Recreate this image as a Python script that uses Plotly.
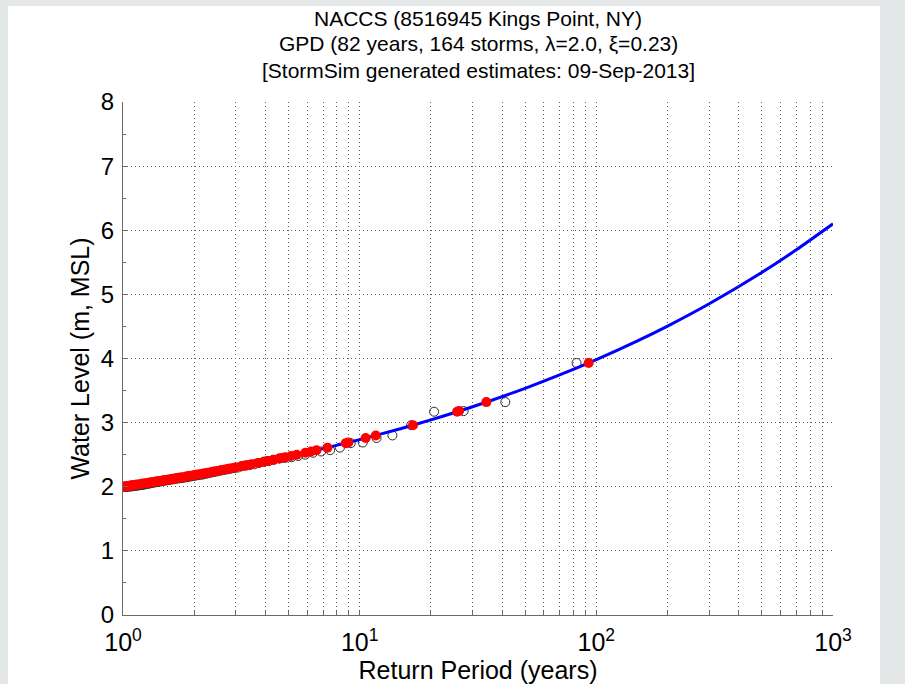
import plotly.graph_objects as go

# Fitted GPD return-level curve (return period in years, water level in m MSL)
curve_rp = [1, 1.5, 2, 3, 5, 7, 10, 15, 20, 30, 50, 70, 100, 150, 200, 300, 500, 700, 1000]
curve_level = [2.000, 2.103, 2.182, 2.303, 2.471, 2.594, 2.735, 2.909, 3.043, 3.248,
               3.535, 3.743, 3.982, 4.279, 4.506, 4.854, 5.341, 5.695, 6.100]

# Ranked storm peaks (largest first)
storm_levels = [
    3.93, 3.32, 3.18, 3.17, 2.96, 2.80, 2.76, 2.69, 2.68, 2.61,
    2.57, 2.55, 2.53, 2.50, 2.48, 2.46, 2.45, 2.44, 2.42, 2.40,
    2.39, 2.37, 2.35, 2.34, 2.33, 2.32, 2.30, 2.29, 2.28, 2.27,
    2.26, 2.25, 2.24, 2.23, 2.22, 2.21, 2.20, 2.19, 2.185, 2.18,
    2.17, 2.165, 2.16, 2.15, 2.145, 2.14, 2.135, 2.13, 2.125, 2.12,
    2.115, 2.11, 2.105, 2.10, 2.095, 2.09, 2.085, 2.08, 2.075, 2.07,
    2.065, 2.06, 2.055, 2.05, 2.045, 2.04, 2.035, 2.03, 2.027, 2.024,
    2.021, 2.018, 2.015, 2.012, 2.009, 2.006, 2.004, 2.002, 2.00, 1.998,
    1.996, 1.994,
]

# Empirical (plotting-position) return periods of the ranked storms
empirical_rp = [
    82.5, 41.25, 27.5, 20.63, 16.5, 13.75, 11.79, 10.31, 9.17, 8.25,
    7.5, 6.88, 6.35, 5.89, 5.5, 5.16, 4.85, 4.58, 4.34, 4.13,
    3.93, 3.75, 3.59, 3.44, 3.3, 3.17, 3.06, 2.95, 2.84, 2.75,
    2.66, 2.58, 2.5, 2.43, 2.36, 2.29, 2.23, 2.17, 2.12, 2.06,
    2.01, 1.96, 1.92, 1.88, 1.83, 1.79, 1.76, 1.72, 1.68, 1.65,
    1.62, 1.59, 1.56, 1.53, 1.5, 1.47, 1.45, 1.42, 1.4, 1.38,
    1.35, 1.33, 1.31, 1.29, 1.27, 1.25, 1.23, 1.21, 1.2, 1.18,
    1.16, 1.15, 1.13, 1.11, 1.1, 1.09, 1.07, 1.06, 1.04, 1.03,
    1.02, 1.01,
]

# Return periods of the same storms according to the fitted distribution
fitted_rp = [
    92.8, 34.3, 26.3, 25.8, 16.8, 11.7, 10.6, 8.96, 8.74, 7.31,
    6.57, 6.23, 5.90, 5.42, 5.13, 4.84, 4.70, 4.57, 4.31, 4.06,
    3.94, 3.71, 3.49, 3.38, 3.28, 3.17, 2.98, 2.88, 2.79, 2.70,
    2.61, 2.53, 2.44, 2.36, 2.28, 2.21, 2.13, 2.06, 2.02, 1.99,
    1.92, 1.88, 1.85, 1.79, 1.75, 1.72, 1.69, 1.66, 1.63, 1.60,
    1.57, 1.54, 1.51, 1.48, 1.46, 1.43, 1.40, 1.38, 1.35, 1.32,
    1.30, 1.27, 1.25, 1.22, 1.20, 1.18, 1.15, 1.13, 1.12, 1.10,
    1.09, 1.08, 1.06, 1.05, 1.04, 1.03, 1.02, 1.01, 1.00, 0.99,
    0.98, 0.97,
]

title_lines = [
    "NACCS (8516945 Kings Point, NY)",
    "GPD (82 years, 164 storms, λ=2.0, ξ=0.23)",
    "[StormSim generated estimates: 09-Sep-2013]",
]

x_major = [1, 10, 100, 1000]
x_major_text = ["10<sup>0</sup>", "10<sup>1</sup>", "10<sup>2</sup>", "10<sup>3</sup>"]
y_ticks = [0, 1, 2, 3, 4, 5, 6, 7, 8]

# every 1..9 step of each decade gets a dotted grid line; only powers of ten are labelled
x_tickvals, x_ticktext = [], []
for d, lab in zip(x_major[:-1], x_major_text[:-1]):
    for k in range(1, 10):
        x_tickvals.append(d * k)
        x_ticktext.append(lab if k == 1 else "")
x_tickvals.append(x_major[-1])
x_ticktext.append(x_major_text[-1])

FONT = "Liberation Sans, Arial, Helvetica, sans-serif"
AXIS = "#6a6a6a"
GRID = dict(gridcolor="#5e5e5e", griddash="1px,3px", gridwidth=1)

fig = go.Figure()

fig.add_trace(go.Scatter(
    x=empirical_rp, y=storm_levels, mode="markers",
    marker=dict(symbol="circle-open", size=9, color="#2b2b2b", line=dict(width=1)),
    showlegend=False, hoverinfo="skip",
))
fig.add_trace(go.Scatter(
    x=curve_rp, y=curve_level, mode="lines",
    line=dict(color="#0000ff", width=3, shape="spline", smoothing=0.6),
    showlegend=False, hoverinfo="skip",
))
fig.add_trace(go.Scatter(
    x=fitted_rp, y=storm_levels, mode="markers",
    marker=dict(symbol="circle", size=10, color="#ff0000", line=dict(width=0)),
    showlegend=False, hoverinfo="skip",
))

L, R, T, B = 123, 72, 102, 69
W, H = 905, 684
pw, ph = W - L - R, H - T - B

# three centred title lines, placed by pixel row above the axes
title_rows = [18, 44, 70]
annotations = [
    dict(text=line, xref="paper", yref="paper", x=0.5, y=(ph + T - row) / ph,
         xanchor="center", yanchor="middle", showarrow=False,
         font=dict(size=21, family=FONT, color="#000000"))
    for line, row in zip(title_lines, title_rows)
]

fig.update_layout(
    width=W, height=H,
    margin=dict(l=L, r=R, t=T, b=B, pad=0),
    paper_bgcolor="#e4e7e7",
    plot_bgcolor="#ffffff",
    font=dict(family=FONT, color="#000000"),
    annotations=annotations,
    shapes=[dict(
        type="rect", xref="paper", yref="paper", layer="below",
        x0=(8 - L) / pw, x1=(880 - L) / pw,
        y0=-(B + 5) / ph, y1=(ph + T - 6) / ph,
        fillcolor="#ffffff", line=dict(width=0),
    )],
    xaxis=dict(
        type="log", range=[0, 3], automargin=False,
        tickvals=x_tickvals, ticktext=x_ticktext,
        ticks="inside", ticklen=4, tickcolor=AXIS,
        showline=True, linecolor=AXIS, linewidth=1,
        showgrid=True, **GRID,
        zeroline=False,
        tickfont=dict(size=25, family=FONT),
        ticklabelstandoff=5,
        title=dict(text="Return Period (years)", font=dict(size=25, family=FONT), standoff=2),
    ),
    yaxis=dict(
        range=[0, 8], tickvals=y_ticks, automargin=False,
        ticks="inside", ticklen=5, tickcolor=AXIS,
        minor=dict(dtick=0.5, ticks="inside", ticklen=3, tickcolor=AXIS, showgrid=False),
        showline=True, linecolor=AXIS, linewidth=1,
        showgrid=True, **GRID,
        zeroline=False,
        tickfont=dict(size=24, family=FONT),
        ticklabelstandoff=3,
        title=dict(text="Water Level (m, MSL)", font=dict(size=25, family=FONT), standoff=4),
    ),
)

fig.write_html("out.html")
